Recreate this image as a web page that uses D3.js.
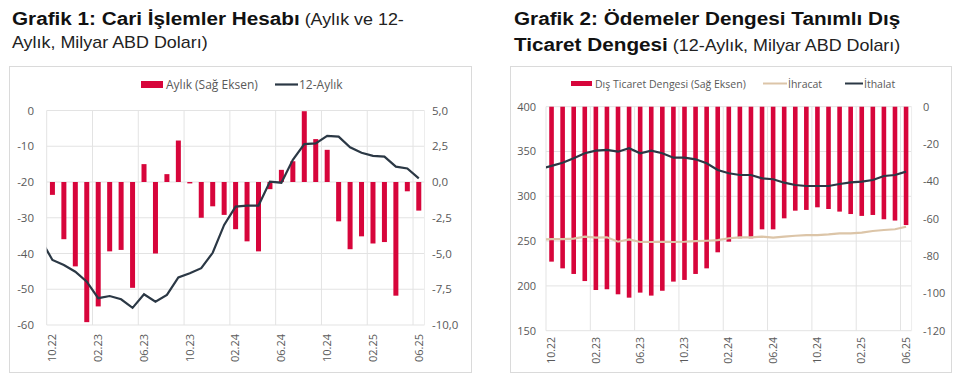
<!DOCTYPE html>
<html>
<head>
<meta charset="utf-8">
<script src="https://cdn.jsdelivr.net/npm/d3@7"></script>
<style>
body { margin: 0; background: #fff; }
</style>
</head>
<body>
<div class="chart"></div>
<script>
// months shown on both charts
var months = ["10.22","11.22","12.22","01.23","02.23","03.23","04.23","05.23","06.23","07.23","08.23","09.23",
	"10.23","11.23","12.23","01.24","02.24","03.24","04.24","05.24","06.24","07.24","08.24","09.24",
	"10.24","11.24","12.24","01.25","02.25","03.25","04.25","05.25","06.25"];
// lines start one month earlier (clipped at plot edge)
var lineMonths = ["09.22"].concat(months);

// Grafik 1
var monthlyCA = [-0.9,-4.0,-5.9,-9.8,-8.7,-4.85,-4.75,-7.4,1.25,-5.0,0.55,2.9,
	-0.1,-2.5,-1.7,-2.3,-3.3,-4.15,-4.85,-0.5,0.85,1.45,4.95,3.0,
	2.25,-2.75,-4.7,-3.8,-4.3,-4.2,-7.95,-0.65,-2.0];
var annualCA = [-36.2,-41.8,-43.2,-45.1,-47.9,-52.5,-51.9,-52.8,-55.2,-51.4,-53.5,-51.6,-46.7,
	-45.5,-44.1,-39.8,-32.0,-26.9,-26.6,-26.6,-19.9,-20.2,-13.8,-9.4,-9.2,
	-7.1,-7.3,-10.3,-11.8,-12.7,-12.9,-15.7,-16.2,-19.0];
var ca_left_ticks = [0,-10,-20,-30,-40,-50,-60];
var ca_right_ticks = [5,2.5,0,-2.5,-5,-7.5,-10];

// Grafik 2
var tradeBalance = [-83.0,-86.6,-89.6,-93.4,-98.2,-97.8,-100.5,-102.3,-99.6,-101.2,-98.6,-93.7,
	-92.8,-89.6,-86.6,-78.0,-72.3,-70.5,-70.5,-65.7,-65.7,-59.8,-55.7,-55.3,
	-53.9,-54.8,-56.2,-57.5,-58.5,-58.0,-60.3,-61.0,-63.4];
var exports = [251.8,252.2,252.3,252.7,254.9,253.8,254.2,249.3,252.0,249.0,249.0,249.3,249.0,
	249.3,250.0,250.4,251.0,253.2,254.2,254.2,254.9,253.8,254.9,256.0,256.7,
	256.7,257.5,258.7,258.7,259.4,261.3,262.4,263.2,266.0];
var imports = [330.5,334.0,337.5,342.4,348.0,350.9,351.7,349.8,353.6,348.0,350.9,348.0,343.1,
	343.1,341.3,336.8,329.4,325.7,323.8,323.8,320.1,319.0,315.2,312.6,311.5,
	311.5,311.5,313.7,315.6,316.3,318.2,322.7,323.8,327.5];
var tr_left_ticks = [400,350,300,250,200,150];
var tr_right_ticks = [0,-20,-40,-60,-80,-100,-120];

var red = "#d7053b";
var navy = "#2b3845";
var tan = "#dcc5a8";
var grid = "#e3e3e3";
var tickColor = "#595959";
var svg;

function draw() {
	svg = d3.select(".chart").append("svg")
		.attr("width", 960)
		.attr("height", 382);

	draw_titles();
	draw_chart1();
	draw_chart2();
}

function fmt_comma(v) {
	return d3.format(".1f")(v).replace(".", ",").replace("−", "-");
}

function frame(x, y, w, h) {
	svg.append("rect")
		.attr("x", x).attr("y", y)
		.attr("width", w).attr("height", h)
		.attr("fill", "none")
		.attr("stroke", "#dadada");
}

// title text, slightly widened like the original
function title_line(x, y) {
	return svg.append("text")
		.attr("transform", "translate(" + x + "," + y + ") scale(1.12,1)")
		.attr("font-family", "Liberation Sans, Arial, sans-serif")
		.attr("fill", "#111");
}

function draw_titles() {
	let t1 = title_line(12, 25);
	t1.append("tspan").attr("font-weight", "bold").attr("font-size", "18.5px").text("Grafik 1: Cari İşlemler Hesabı");
	t1.append("tspan").attr("font-size", "16px").attr("fill", "#222").text(" (Aylık ve 12-");
	title_line(12, 48).attr("font-size", "16px").attr("fill", "#222")
		.text("Aylık, Milyar ABD Doları)");

	title_line(514, 25).attr("font-weight", "bold").attr("font-size", "18.5px")
		.text("Grafik 2: Ödemeler Dengesi Tanımlı Dış");
	let t2 = title_line(514, 51);
	t2.append("tspan").attr("font-weight", "bold").attr("font-size", "18.5px").text("Ticaret Dengesi");
	t2.append("tspan").attr("font-size", "16px").attr("fill", "#222").text(" (12-Aylık, Milyar ABD Doları)");
}

// shared grid + x labels
function draw_frame_axes(g, x, yL, ticksL, left, right, top, bottom, labelY, fs) {
	g.selectAll(".hgrid").data(ticksL).enter().append("line")
		.attr("x1", left).attr("x2", right)
		.attr("y1", d => yL(d)).attr("y2", d => yL(d))
		.attr("stroke", grid);
	let gridMonths = months.filter((m, i) => i % 4 === 0);
	g.selectAll(".vgrid").data(gridMonths).enter().append("line")
		.attr("x1", d => x(d)).attr("x2", d => x(d))
		.attr("y1", top).attr("y2", bottom)
		.attr("stroke", grid);
	g.append("line").attr("x1", right).attr("x2", right).attr("y1", top).attr("y2", bottom).attr("stroke", "#ededed");

	g.selectAll(".xlab").data(gridMonths).enter().append("text")
		.attr("transform", d => "translate(" + (x(d) + x.bandwidth() / 2) + "," + labelY + ") rotate(-90)")
		.attr("text-anchor", "end")
		.attr("dy", "0.35em")
		.attr("font-family", "Open Sans, sans-serif")
		.attr("font-size", fs)
		.attr("fill", tickColor)
		.text(d => d);
}

function draw_chart1() {
	frame(9.5, 66.5, 462, 306);
	let left = 46.7, right = 424.5, top = 110.5, bottom = 325;
	let x = d3.scaleBand().domain(months).range([left, right]);
	let bw = x.bandwidth();
	let xl = d3.scaleBand().domain(lineMonths).range([left - bw, right]);
	let yL = d3.scaleLinear().domain([-60, 0]).range([bottom, top]);
	let yR = d3.scaleLinear().domain([-10, 5]).range([bottom, top]);

	let g = svg.append("g").attr("class", "c1");
	draw_frame_axes(g, x, yL, ca_left_ticks, left, right, top, bottom, 334, "11px");

	g.selectAll(".yl").data(ca_left_ticks).enter().append("text")
		.attr("x", 34).attr("y", d => yL(d)).attr("dy", "0.35em")
		.attr("text-anchor", "end")
		.attr("font-family", "Open Sans, sans-serif").attr("font-size", "11.5px").attr("fill", tickColor)
		.text(d => d);
	g.selectAll(".yr").data(ca_right_ticks).enter().append("text")
		.attr("x", 432).attr("y", d => yR(d)).attr("dy", "0.35em")
		.attr("font-family", "Open Sans, sans-serif").attr("font-size", "11.5px").attr("fill", tickColor)
		.text(d => fmt_comma(d));

	let barW = 5;
	g.selectAll(".bar").data(monthlyCA).enter().append("rect")
		.attr("x", (d, i) => x(months[i]) + (bw - barW) / 2)
		.attr("width", barW)
		.attr("y", d => yR(Math.max(0, d)))
		.attr("height", d => Math.abs(yR(d) - yR(0)))
		.attr("fill", red);

	svg.append("clipPath").attr("id", "clip1").append("rect")
		.attr("x", left).attr("y", top - 5).attr("width", right - left).attr("height", bottom - top + 10);
	let line = d3.line().x((d, i) => xl(lineMonths[i]) + bw / 2).y(d => yL(d));
	g.append("path").datum(annualCA)
		.attr("d", line)
		.attr("clip-path", "url(#clip1)")
		.attr("fill", "none").attr("stroke", navy).attr("stroke-width", 2.2);

	// legend
	let lg = g.append("g").attr("font-family", "Open Sans, sans-serif").attr("font-size", "12px").attr("fill", tickColor);
	lg.append("rect").attr("x", 141).attr("y", 81).attr("width", 22).attr("height", 7).attr("fill", red);
	lg.append("text").attr("x", 166).attr("y", 88.5).text("Aylık (Sağ Eksen)");
	lg.append("line").attr("x1", 275).attr("x2", 298).attr("y1", 84.5).attr("y2", 84.5).attr("stroke", navy).attr("stroke-width", 2.2);
	lg.append("text").attr("x", 299).attr("y", 88.5).text("12-Aylık");
}

function draw_chart2() {
	frame(510.5, 66.5, 441, 306);
	let left = 546, right = 911.6, top = 106.7, bottom = 330.7;
	let x = d3.scaleBand().domain(months).range([left, right]);
	let bw = x.bandwidth();
	let xl = d3.scaleBand().domain(lineMonths).range([left - bw, right]);
	let yL = d3.scaleLinear().domain([150, 400]).range([bottom, top]);
	let yR = d3.scaleLinear().domain([-120, 0]).range([bottom, top]);

	let g = svg.append("g").attr("class", "c2");
	draw_frame_axes(g, x, yL, tr_left_ticks, left, right, top, bottom, 337, "10.5px");

	g.selectAll(".yl").data(tr_left_ticks).enter().append("text")
		.attr("x", 536).attr("y", d => yL(d)).attr("dy", "0.35em")
		.attr("text-anchor", "end")
		.attr("font-family", "Open Sans, sans-serif").attr("font-size", "11px").attr("fill", tickColor)
		.text(d => d);
	g.selectAll(".yr").data(tr_right_ticks).enter().append("text")
		.attr("x", 923).attr("y", d => yR(d)).attr("dy", "0.35em")
		.attr("font-family", "Open Sans, sans-serif").attr("font-size", "11px").attr("fill", tickColor)
		.text(d => d);

	let barW = 4.6;
	g.selectAll(".bar").data(tradeBalance).enter().append("rect")
		.attr("x", (d, i) => x(months[i]) + (bw - barW) / 2)
		.attr("width", barW)
		.attr("y", yR(0))
		.attr("height", d => yR(d) - yR(0))
		.attr("fill", red);

	svg.append("clipPath").attr("id", "clip2").append("rect")
		.attr("x", left).attr("y", top - 5).attr("width", right - left).attr("height", bottom - top + 10);
	let line = d3.line().x((d, i) => xl(lineMonths[i]) + bw / 2).y(d => yL(d));
	g.append("path").datum(exports)
		.attr("d", line).attr("clip-path", "url(#clip2)")
		.attr("fill", "none").attr("stroke", tan).attr("stroke-width", 2.2);
	g.append("path").datum(imports)
		.attr("d", line).attr("clip-path", "url(#clip2)")
		.attr("fill", "none").attr("stroke", navy).attr("stroke-width", 2.2);

	// legend
	let lg = g.append("g").attr("font-family", "Open Sans, sans-serif").attr("font-size", "10.5px").attr("fill", tickColor);
	lg.append("rect").attr("x", 571).attr("y", 81).attr("width", 21).attr("height", 5).attr("fill", red);
	lg.append("text").attr("x", 595).attr("y", 87.5).text("Dış Ticaret Dengesi (Sağ Eksen)");
	lg.append("line").attr("x1", 763).attr("x2", 787).attr("y1", 83.5).attr("y2", 83.5).attr("stroke", tan).attr("stroke-width", 2);
	lg.append("text").attr("x", 788).attr("y", 87.5).text("İhracat");
	lg.append("line").attr("x1", 845).attr("x2", 863).attr("y1", 83.5).attr("y2", 83.5).attr("stroke", navy).attr("stroke-width", 2);
	lg.append("text").attr("x", 864).attr("y", 87.5).text("İthalat");
}

draw();
</script>
</body>
</html>
